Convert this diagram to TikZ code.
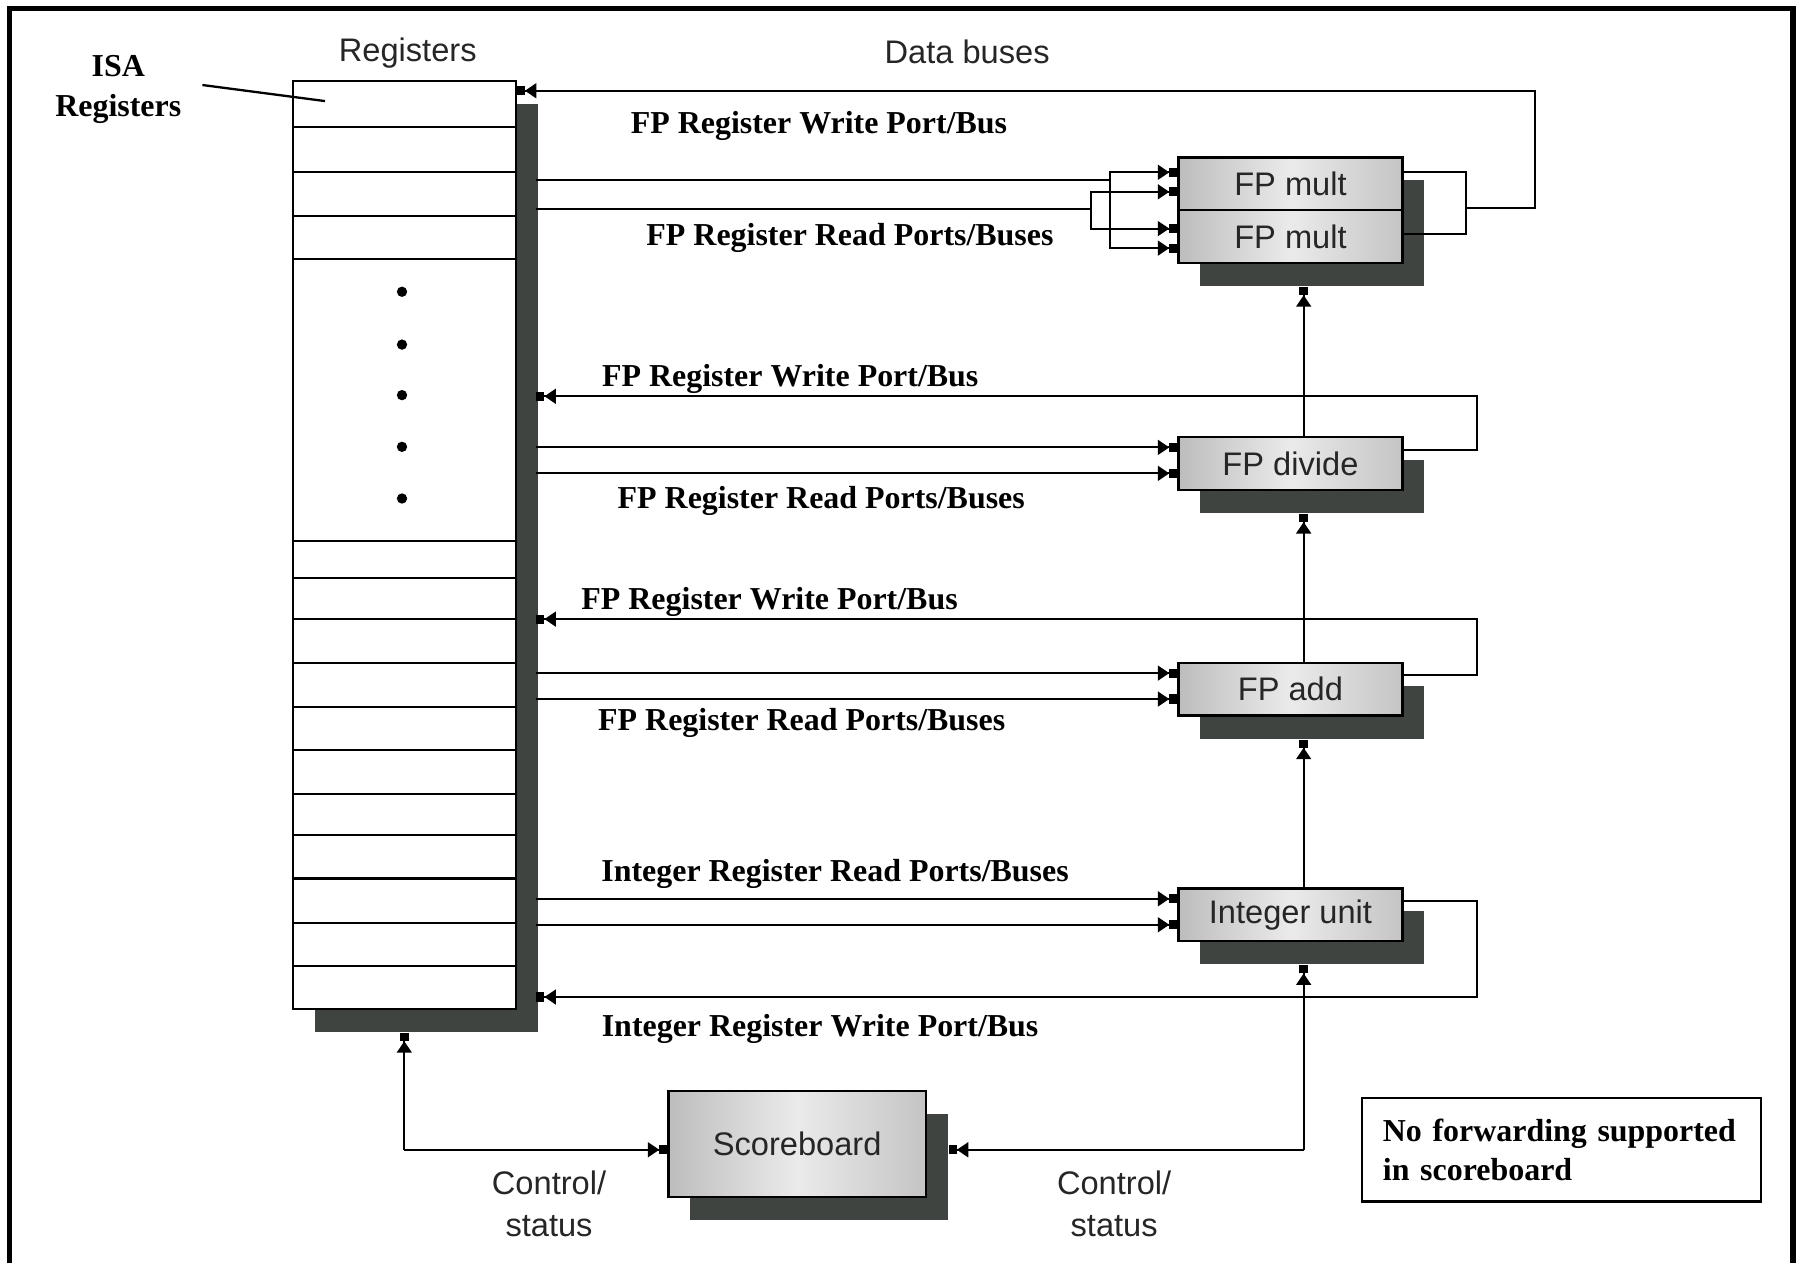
\documentclass[tikz,border=0pt]{standalone}
\usepackage{fontspec}
\setmainfont{Liberation Serif}
\setsansfont{Liberation Sans}
\usetikzlibrary{arrows.meta,shadows}

\definecolor{shadowgray}{RGB}{64,68,64}

\tikzset{
  boxshadow/.style={drop shadow={shadow xshift=9.5pt, shadow yshift=-10pt, fill=shadowgray, opacity=1}},
  unit/.style={draw, line width=1pt, minimum width=97.5pt, minimum height=23pt, inner sep=0pt,
    left color=black!26, right color=black!23, middle color=black!8, boxshadow,
    text=black!85, font=\sffamily\fontsize{14.2}{17}\selectfont},
  regfile/.style={draw, line width=1pt, fill=white, minimum width=97pt, minimum height=404pt, boxshadow},
  buslabel/.style={font=\bfseries\fontsize{13.9}{17}\selectfont, inner sep=0pt},
  sanslabel/.style={font=\sffamily\fontsize{14.2}{18}\selectfont, text=black!85, align=center, inner sep=0pt},
  bus/.style={line width=0.85pt},
  busarrow/.style={bus, -{Triangle[length=5pt,width=6.5pt]Rectangle[length=3.5pt,width=4pt]}},
}

\begin{document}
\begin{tikzpicture}[x=0.5pt,y=-0.5pt]
\useasboundingbox (0,0) rectangle (1568,1100);
% frame, open at the bottom
\draw[line width=2.2pt] (8,1100) -- (8,7) -- (1561,7) -- (1561,1100);

% register file
\node[regfile] (regs) at (352,474.5) {};
\foreach \y in {110.8,149.5,188,225.5,470.7,503.5,539,577.5,615.3,653,691.3,727,764.7,803.3,840.7}
  \draw[line width=1pt] (regs.west |- 0,\y) -- (regs.east |- 0,\y);
\foreach \y in {254,300,344,389,434}
  \fill (350,\y) circle (4.5);
\coordinate (busx) at (467,0);

% functional units
\node[unit] (multA) at (1123.5,160) {FP mult};
\node[unit] (multB) at (1123.5,206) {FP mult};
\node[unit] (div) at (1123.5,403.5) {FP divide};
\node[unit] (add) at (1123.5,600) {FP add};
\node[unit] (int) at (1123.5,796.5) {Integer unit};
\node[unit, minimum width=112pt, minimum height=46pt] (score) at (694,996) {Scoreboard};

% headings and notes
\node[sanslabel] (regtitle) at (355,46) {Registers};
\node[sanslabel] (bustitle) at (842,45) {Data buses};
\node[buslabel, align=center, inner sep=4pt, font=\bfseries\fontsize{13.9}{17.5}\selectfont] (isa) at (103,78) {ISA\\Registers};
\coordinate (isaend) at (283,88);
\draw[line width=1pt] ([xshift=5pt,yshift=2pt]isa.east) -- (isaend);
\node[sanslabel] (ctlLtxt) at (478,1048) {Control/\\status};
\node[sanslabel] (ctlRtxt) at (970,1048) {Control/\\status};
\node[draw, line width=1pt, text width=155.5pt, minimum height=43pt, inner sep=9pt, align=left,
  font=\bfseries\fontsize{13.9}{17}\selectfont] (note) at (1359.5,1001) {No forwarding supported\\in scoreboard};

\node[buslabel] (lw1) at (713,110) {FP Register Write Port/Bus};
\node[buslabel] (lr1) at (740,207) {FP Register Read Ports/Buses};
\node[buslabel] (lw2) at (688,330) {FP Register Write Port/Bus};
\node[buslabel] (lr2) at (715,436) {FP Register Read Ports/Buses};
\node[buslabel] (lw3) at (670,524) {FP Register Write Port/Bus};
\node[buslabel] (lr3) at (698,629) {FP Register Read Ports/Buses};
\node[buslabel] (lr4) at (727,761) {Integer Register Read Ports/Buses};
\node[buslabel] (lw4) at (714,896) {Integer Register Write Port/Bus};

% multiplier buses
\coordinate (fA) at (966,157);
\coordinate (fB) at (950,182);
\draw[bus] (busx |- fA) -- (fA);
\draw[bus] (busx |- fB) -- (fB);
\draw[busarrow] (fA) |- ([yshift=5pt]multA.west);
\draw[busarrow] (fA) |- ([yshift=-5pt]multB.west);
\draw[busarrow] (fB) |- ([yshift=-3.5pt]multA.west);
\draw[busarrow] (fB) |- ([yshift=3.5pt]multB.west);
\coordinate (mJ) at (1276,181);
\coordinate (wrM) at (1336,79);
\draw[bus] ([yshift=5pt]multA.east) -| (mJ);
\draw[bus] ([yshift=1pt]multB.east) -| (mJ);
\draw[busarrow] (mJ) -| (wrM) -- (wrM -| regs.east);

% read and write buses of the other units
\coordinate (wrD) at (1286,345);
\coordinate (wrA) at (1286,539);
\coordinate (wrI) at (1286,868);
\foreach \u/\w in {div/wrD,add/wrA,int/wrI}{
  \draw[busarrow] ([yshift=7pt]\u.west -| busx) -- ([yshift=7pt]\u.west);
  \draw[busarrow] ([yshift=-4.3pt]\u.west -| busx) -- ([yshift=-4.3pt]\u.west);
  \draw[busarrow] ([yshift=6pt]\u.east) -| (\w) -- (\w -| busx);
}

% issue chain
\draw[busarrow] ([xshift=5.75pt]int.north) -- ([xshift=5.75pt,yshift=-10pt]add.south);
\draw[busarrow] ([xshift=5.75pt]add.north) -- ([xshift=5.75pt,yshift=-10pt]div.south);
\draw[busarrow] ([xshift=5.75pt]div.north) -- ([xshift=5.75pt,yshift=-10pt]multB.south);

% control/status
\coordinate (ctlL) at (352,1001);
\coordinate (ctlR) at (1135,1001);
\draw[busarrow] (ctlL) -- ([yshift=-10pt]regs.south);
\draw[busarrow] (ctlL) -- (ctlL -| score.west);
\draw[busarrow] (ctlR) -- ([xshift=5.75pt,yshift=-10pt]int.south);
\draw[busarrow] (ctlR) -- ([xshift=9.5pt]score.east |- ctlR);
\end{tikzpicture}
\end{document}
